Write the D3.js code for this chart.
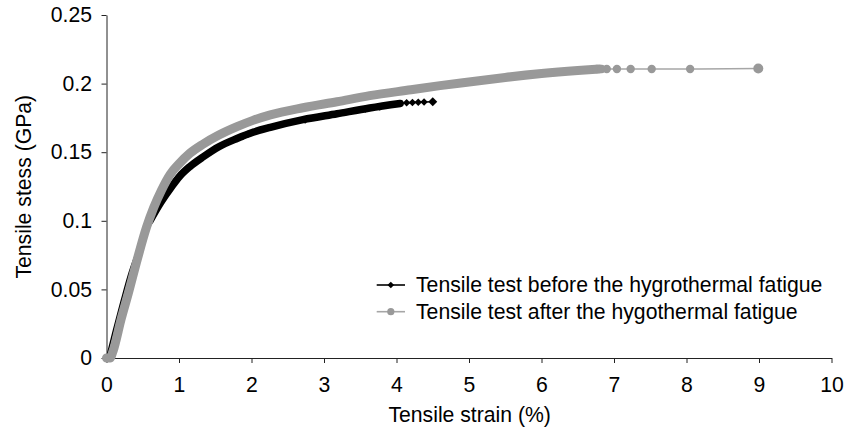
<!DOCTYPE html>
<html><head><meta charset="utf-8">
<script src="https://cdn.jsdelivr.net/npm/d3@7"></script>
<style>
body{margin:0;background:#fff}
text{font-family:"Liberation Sans",Arial,Helvetica,sans-serif;fill:#000}
</style>
</head><body>
<svg id="chart" width="846" height="435"></svg>
<script>
// ---- data ----
const xTicks = [0,1,2,3,4,5,6,7,8,9,10];
const yTicks = [0,0.05,0.1,0.15,0.2,0.25];
const yTickLabels = ["0","0.05","0.1","0.15","0.2","0.25"];
const xTitle = "Tensile strain (%)";
const yTitle = "Tensile stess (GPa)";
const seriesNames = ["Tensile test before the hygrothermal fatigue","Tensile test after the hygothermal fatigue"];

// before (black) – dense measured curve
const beforeX = [0,0.1,0.2,0.3,0.45,0.6,0.75,0.9,1.01,1.15,1.335,1.55,1.8,2.02,2.26,2.71,3.18,3.63,4.05];
const beforeY = [0,0.021,0.041,0.06,0.082,0.1,0.1135,0.125,0.1325,0.1395,0.1467,0.154,0.16,0.1645,0.1681,0.1737,0.178,0.1822,0.1855];
const beforeBandFrom = 0.6; // strain where the points become dense
const beforeMarkX = [1.88,1.95,2.02,2.74,3.57,3.77,4.14,4.22,4.30,4.38,4.50];
const beforeMarkY = [0.1615,0.163,0.1645,0.1735,0.1815,0.183,0.186,0.1862,0.1864,0.1866,0.1868];

// after (gray)
const afterX = [0,0.05,0.09,0.2,0.3,0.425,0.55,0.65,0.76,0.88,1.0,1.15,1.335,1.55,1.8,2.02,2.26,2.71,3.18,3.63,4.2,4.6,5.0,5.5,6.0,6.5,6.8];
const afterY = [0,0,0.005,0.028,0.047,0.072,0.095,0.1095,0.1225,0.134,0.1415,0.1492,0.156,0.1625,0.1686,0.1732,0.1772,0.1824,0.1868,0.1912,0.1955,0.1985,0.2012,0.2045,0.2073,0.2095,0.2106];
const afterMarkX = [6.76,6.83,6.90,7.04,7.23,7.52,8.05,8.99];
const afterMarkY = [0.2106,0.2106,0.2106,0.2106,0.2106,0.2106,0.2106,0.211];

// ---- drawing ----
const svg = d3.select("#chart");
const x = d3.scaleLinear().domain([0,10]).range([106.5,831.5]);
const y = d3.scaleLinear().domain([0,0.25]).range([358,15]);
const FS = 21.2;

const black = "#000", gray = "#999999";

const pts = (xs, ys) => xs.map((v,i)=>[v, ys[i]]);
const line = d3.line().x(d=>x(d[0])).y(d=>y(d[1])).curve(d3.curveMonotoneX);

// axes
const xAxis = d3.axisBottom(x).tickValues(xTicks).tickFormat(d3.format("d"))
  .tickSize(5).tickSizeOuter(0).tickPadding(13.5);
const gx = svg.append("g").attr("transform",`translate(0,${y(0)})`).call(xAxis);
const yAxis = d3.axisLeft(y).tickValues(yTicks).tickFormat((d,i)=>yTickLabels[i])
  .tickSize(5).tickSizeOuter(0).tickPadding(9.5);
const gy = svg.append("g").attr("transform",`translate(${x(0)},0)`).call(yAxis);
[gx,gy].forEach(g=>{
  g.select(".domain").attr("stroke","#222").attr("stroke-width",1);
  g.selectAll(".tick line").attr("stroke","#222");
  g.selectAll(".tick text").attr("font-size",FS).attr("font-family",'"Liberation Sans",Arial,sans-serif').attr("fill","#000");
});

// titles
svg.append("text").attr("x",469.7).attr("y",422).attr("text-anchor","middle")
  .attr("font-size",FS).text(xTitle);
svg.append("text").attr("transform",`translate(31,186.7) rotate(-90)`).attr("text-anchor","middle")
  .attr("font-size",FS).text(yTitle);

// before series
const bAll = pts(beforeX,beforeY);
svg.append("path").attr("d",line(bAll)).attr("fill","none").attr("stroke",black).attr("stroke-width",1.6);
svg.append("path").attr("d",line(bAll.filter(d=>d[0]>=beforeBandFrom)))
  .attr("fill","none").attr("stroke",black).attr("stroke-width",7.5)
  .attr("stroke-linecap","round").attr("stroke-linejoin","round");
const bm = pts(beforeMarkX,beforeMarkY);
svg.append("path").attr("d",line(bm.slice(5))).attr("fill","none").attr("stroke",black).attr("stroke-width",1.6);
svg.selectAll(".bm").data(bm).join("path")
  .attr("transform",d=>`translate(${x(d[0])},${y(d[1])}) rotate(45)`)
  .attr("d",(d,i)=>d3.symbol(d3.symbolSquare, i===bm.length-1?40:28)())
  .attr("fill",black);

// after series
const aAll = pts(afterX,afterY);
svg.append("path").attr("d",line(aAll))
  .attr("fill","none").attr("stroke",gray).attr("stroke-width",9)
  .attr("stroke-linecap","round").attr("stroke-linejoin","round");
const am = pts(afterMarkX,afterMarkY);
svg.append("path").attr("d",line(am)).attr("fill","none").attr("stroke","#a6a6a6").attr("stroke-width",1.6);
svg.selectAll(".am").data(am).join("circle")
  .attr("cx",d=>x(d[0])).attr("cy",d=>y(d[1]))
  .attr("r",(d,i)=>i===am.length-1?5:4.2).attr("fill",gray);

// legend
const legY = [285,311.7];
const leg = svg.append("g");
seriesNames.forEach((name,i)=>{
  const c = i===0?black:gray;
  leg.append("line").attr("x1",376.7).attr("x2",405).attr("y1",legY[i]).attr("y2",legY[i])
    .attr("stroke", i===0?black:"#a6a6a6").attr("stroke-width",1.6);
  if(i===0){
    leg.append("path").attr("transform",`translate(390.8,${legY[i]}) rotate(45)`)
      .attr("d",d3.symbol(d3.symbolSquare,22)()).attr("fill",c);
  } else {
    leg.append("circle").attr("cx",390.8).attr("cy",legY[i]).attr("r",3.6).attr("fill",c);
  }
  leg.append("text").attr("x",416).attr("y",legY[i]+7.2).attr("font-size",FS).text(name);
});
</script>
</body></html>
